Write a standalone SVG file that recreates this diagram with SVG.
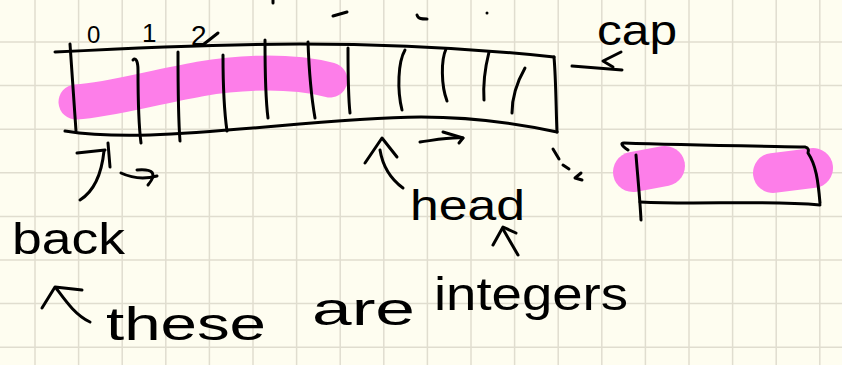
<svg xmlns="http://www.w3.org/2000/svg" width="842" height="365" viewBox="0 0 842 365">
<style>
.grid line{stroke:#e0ddcf;stroke-width:1.5}
.ink{fill:none;stroke:#000;stroke-width:3;stroke-linecap:round;stroke-linejoin:round}
.hl{fill:none;stroke:#fd7ee9;stroke-linecap:round;stroke-linejoin:round}
.t{font-family:"Liberation Sans",Arial,sans-serif;fill:#000}
</style>
<rect width="842" height="365" fill="#fefdf0"/>
<g class="grid">
<line x1="35" y1="0" x2="35" y2="365"/><line x1="78.6" y1="0" x2="78.6" y2="365"/><line x1="122.2" y1="0" x2="122.2" y2="365"/><line x1="165.8" y1="0" x2="165.8" y2="365"/><line x1="209.4" y1="0" x2="209.4" y2="365"/><line x1="253" y1="0" x2="253" y2="365"/><line x1="296.6" y1="0" x2="296.6" y2="365"/><line x1="340.2" y1="0" x2="340.2" y2="365"/><line x1="383.8" y1="0" x2="383.8" y2="365"/><line x1="427.4" y1="0" x2="427.4" y2="365"/><line x1="471" y1="0" x2="471" y2="365"/><line x1="514.6" y1="0" x2="514.6" y2="365"/><line x1="558.2" y1="0" x2="558.2" y2="365"/><line x1="601.8" y1="0" x2="601.8" y2="365"/><line x1="645.4" y1="0" x2="645.4" y2="365"/><line x1="689" y1="0" x2="689" y2="365"/><line x1="732.6" y1="0" x2="732.6" y2="365"/><line x1="776.2" y1="0" x2="776.2" y2="365"/><line x1="819.8" y1="0" x2="819.8" y2="365"/>
<line x1="0" y1="42" x2="842" y2="42"/><line x1="0" y1="85.6" x2="842" y2="85.6"/><line x1="0" y1="129.2" x2="842" y2="129.2"/><line x1="0" y1="172.8" x2="842" y2="172.8"/><line x1="0" y1="216.4" x2="842" y2="216.4"/><line x1="0" y1="260" x2="842" y2="260"/><line x1="0" y1="303.6" x2="842" y2="303.6"/><line x1="0" y1="347.2" x2="842" y2="347.2"/>
</g>
<g id="array">
<path class="hl" stroke-width="35" d="M76,102 C110,100 150,88 200,79 C240,72 290,70 330,80"/>
<path class="ink" d="M55,52 C150,47 220,44 300,44 C380,44 470,48 554,57"/>
<path class="ink" d="M554,57 C556,80 556,110 557,132"/>
<path class="ink" d="M65,131 C90,135 115,136 150,135 C250,131 330,118 421,117 C470,117 520,124 557,132"/>
<path class="ink" d="M70,44 C72,75 74,105 76,131"/>
<path class="ink" d="M133,60 C136,57 138,62 138,70 C138,95 138,120 141,143"/>
<path class="ink" d="M178,52 C178,80 178,115 180,141"/>
<path class="ink" d="M223,55 C223,85 224,110 227,131"/>
<path class="ink" d="M265,40 C265,70 265,95 268,118"/>
<path class="ink" d="M308,42 C309,70 311,95 315,118"/>
<path class="ink" d="M348,48 C348,75 348,95 350,113"/>
<path class="ink" d="M405,50 C398,62 397,90 402,110"/>
<path class="ink" d="M446,49 C441,60 441,85 447,101"/>
<path class="ink" d="M489,52 C485,68 483,85 484,100"/>
<path class="ink" d="M525,68 C517,82 512,98 512,113"/>
<text class="t" x="87" y="43" font-size="24">0</text>
<text class="t" x="142" y="42" font-size="26">1</text>
<text class="t" x="191" y="45" font-size="28">2</text>
<path class="ink" d="M204,44 L218,33"/>
</g>
<g id="marks">
<path class="ink" d="M333,16 L347,12"/>
<path class="ink" d="M417,15 C418,19 422,19 427,19"/>
<circle cx="487" cy="13" r="1.5" fill="#000"/>
<path class="ink" d="M273,0 L273,3"/>
</g>
<g id="cap">
<text class="t" x="597" y="45" font-size="42" textLength="80" lengthAdjust="spacingAndGlyphs">cap</text>
</g>
<g id="small-box">
<path class="hl" stroke-width="40" d="M633,172 L665,166"/>
<path class="hl" stroke-width="40" d="M773,173 L813,168"/>
<path class="ink" stroke-width="2.5" d="M628,150 C622,146 620,143 624,143 C680,145 750,146 805,147 C810,148 808,152 808,153 C816,165 818,180 820,203"/>
<path class="ink" stroke-width="2.5" d="M640,202 C700,205 760,200 820,205"/>
<path class="ink" stroke-width="2.5" d="M636,155 C638,180 640,200 641,220"/>
</g>
<g id="back">
<text class="t" x="12" y="254" font-size="44" textLength="113" lengthAdjust="spacingAndGlyphs">back</text>
</g>
<g id="head">
<text class="t" x="410" y="220" font-size="42" textLength="115" lengthAdjust="spacingAndGlyphs">head</text>
</g>
<g id="note">
<text class="t" font-size="46"><tspan x="106" y="340" textLength="160" lengthAdjust="spacingAndGlyphs">these</tspan><tspan x="312" y="325" textLength="103" lengthAdjust="spacingAndGlyphs">are</tspan><tspan x="434" y="310" textLength="194" lengthAdjust="spacingAndGlyphs">integers</tspan></text>
</g>
<g id="connectors">
<path class="ink" d="M572,66 L622,70"/>
<path class="ink" d="M621,52 L603,61 L613,67"/>
<path class="ink" d="M77,153 L105,150"/>
<path class="ink" d="M104,151 C102,170 96,190 80,200"/>
<path class="ink" d="M108,143 L110,167"/>
<path class="ink" d="M121,173 Q138,181 157,176"/>
<path class="ink" d="M137,170 Q162,168 148,185"/>
<path class="ink" d="M365,163 L382,138 L397,157"/>
<path class="ink" d="M380,150 C383,168 392,180 403,188"/>
<path class="ink" d="M420,142 C435,140 450,137 463,138"/>
<path class="ink" d="M443,132 L463,138 L459,143"/>
<path class="ink" d="M553,149 L559,159"/>
<path class="ink" d="M563,165 L569,169"/>
<path class="ink" d="M581,173 L575,178 L582,180"/>
<path class="ink" d="M493,245 L503,227 L516,233"/>
<path class="ink" d="M503,229 L518,255"/>
<path class="ink" d="M42,308 L55,287 L82,290"/>
<path class="ink" d="M56,288 C65,300 75,315 90,322"/>
</g>
</svg>
